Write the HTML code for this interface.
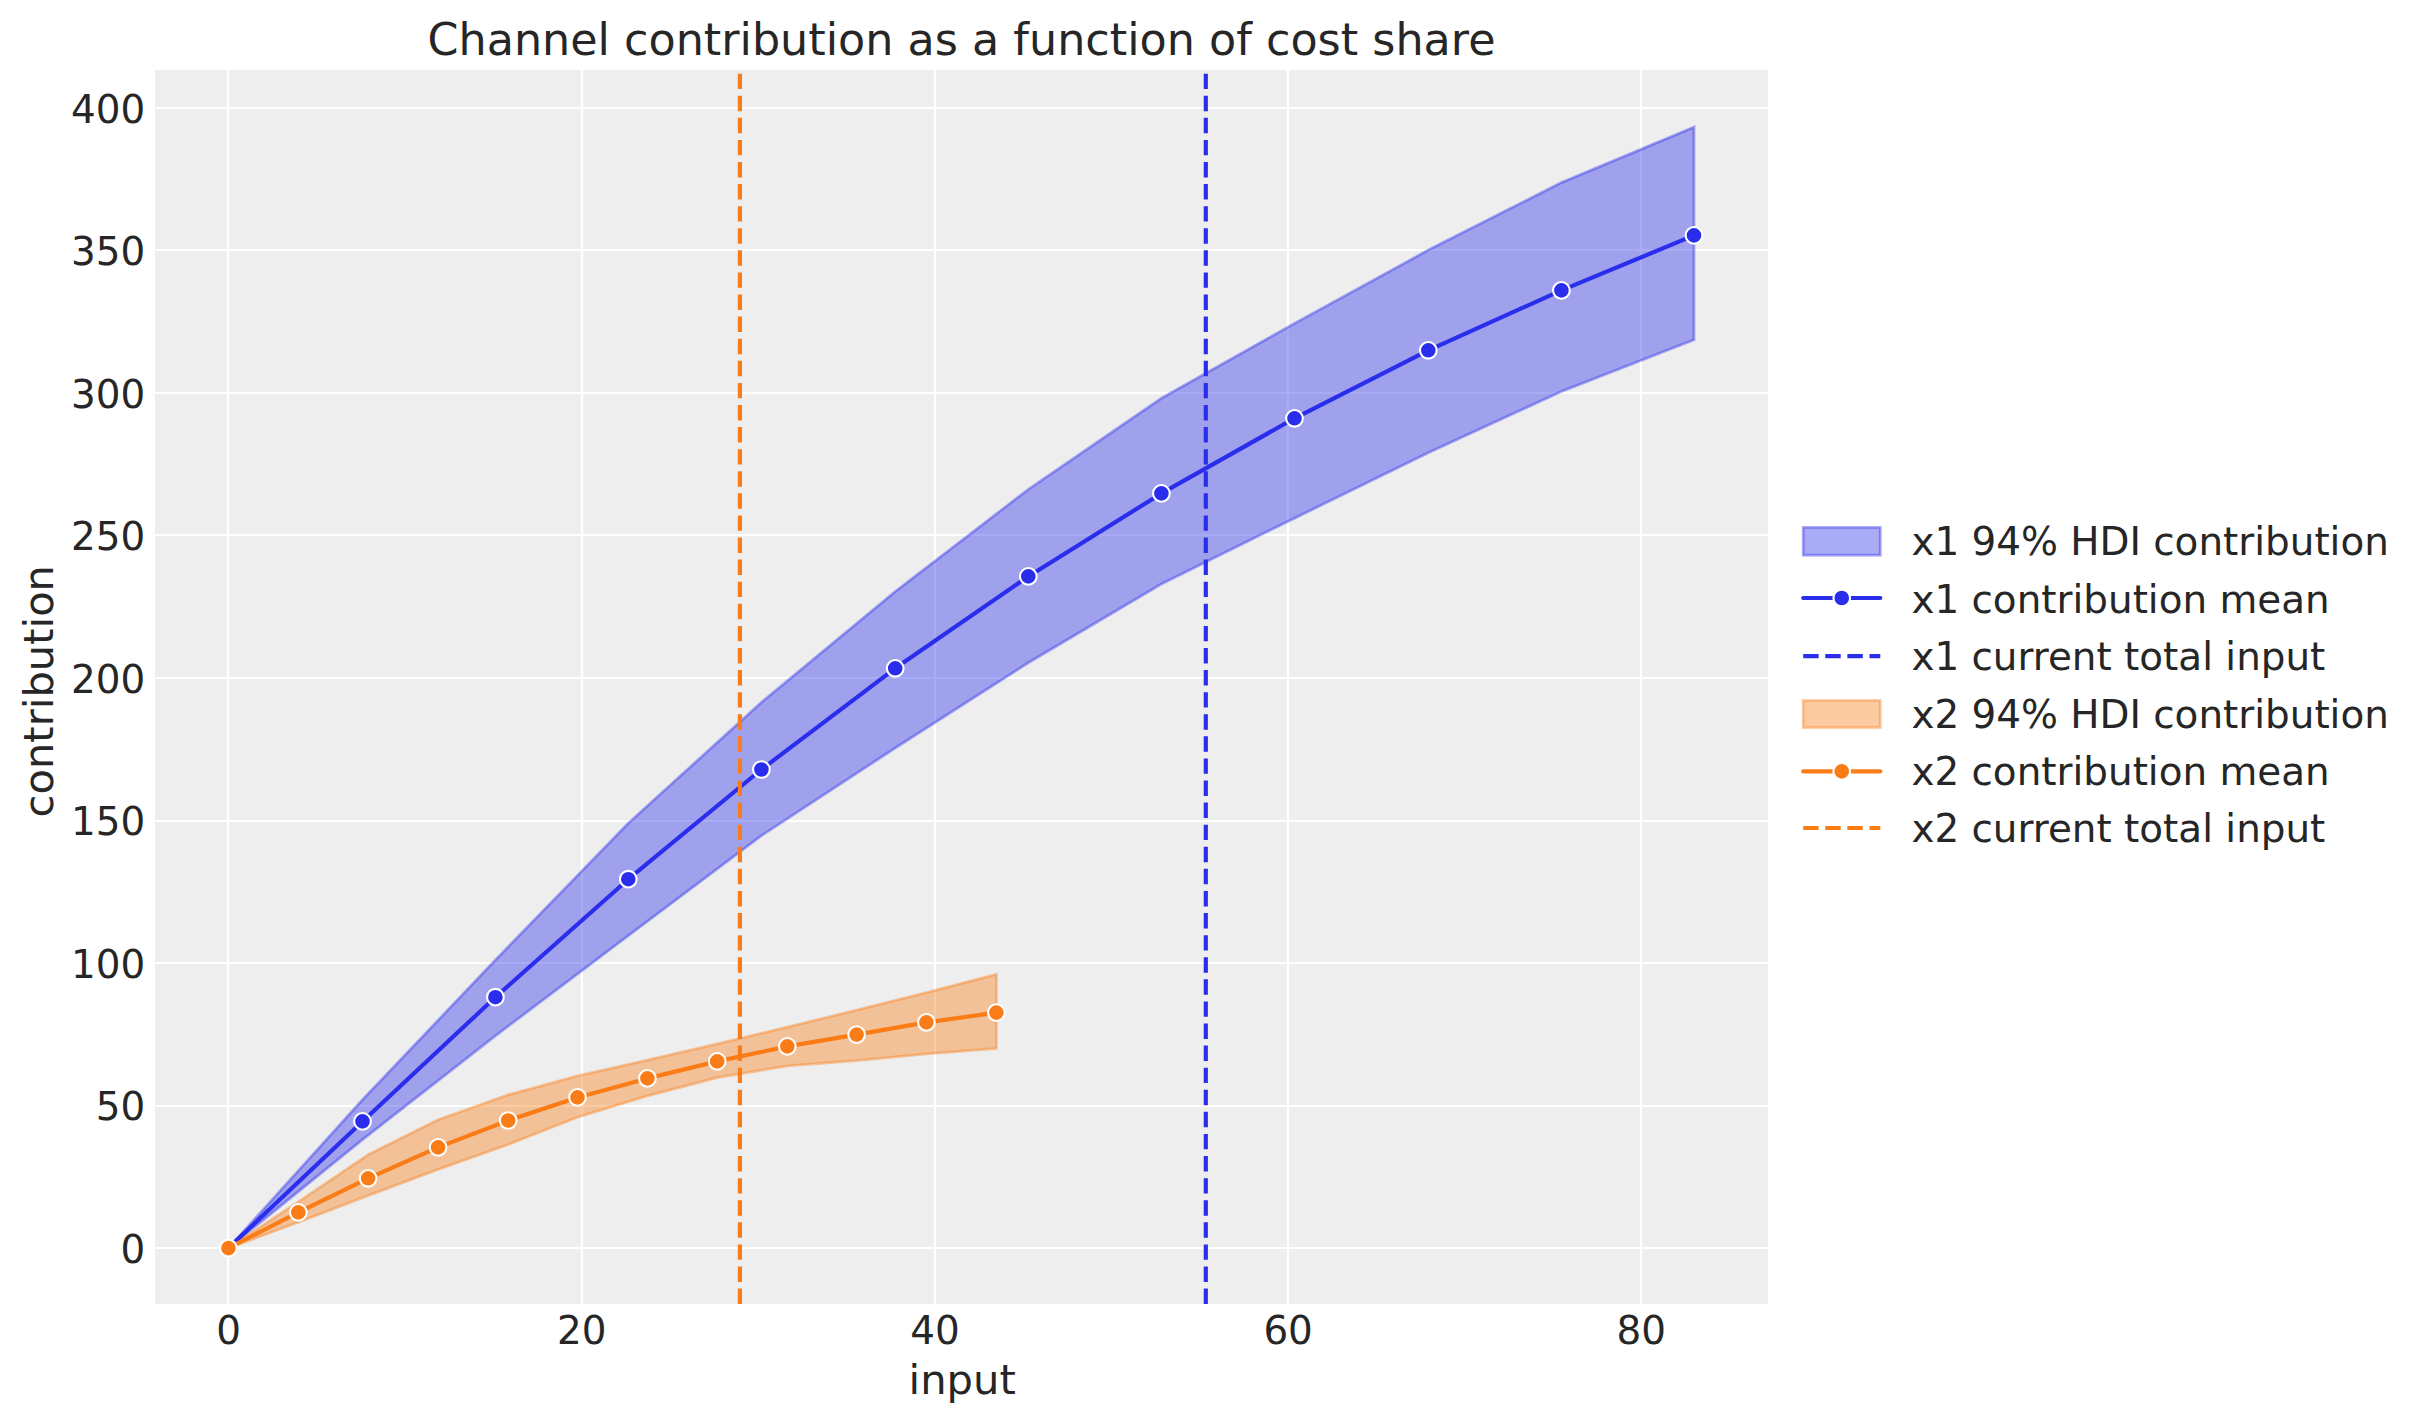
<!DOCTYPE html>
<html lang="en"><head><meta charset="utf-8"><title>Channel contribution as a function of cost share</title>
<style>
html,body{margin:0;padding:0;background:#ffffff;}
body{width:2423px;height:1423px;overflow:hidden;}
svg text{white-space:pre;}
</style></head><body>
<svg width="2423" height="1423" viewBox="0 0 2423 1423" style="display:block">
<rect x="0" y="0" width="2423" height="1423" fill="#ffffff"/>
<rect x="155.0" y="70.0" width="1613.0" height="1234.0" fill="#eeeeee"/>
<g stroke="#ffffff" stroke-width="2.22" fill="none">
<line x1="228" y1="70.0" x2="228" y2="1304.0"/>
<line x1="582" y1="70.0" x2="582" y2="1304.0"/>
<line x1="935" y1="70.0" x2="935" y2="1304.0"/>
<line x1="1288" y1="70.0" x2="1288" y2="1304.0"/>
<line x1="1641" y1="70.0" x2="1641" y2="1304.0"/>
<line x1="155.0" y1="1248" x2="1768.0" y2="1248"/>
<line x1="155.0" y1="1106" x2="1768.0" y2="1106"/>
<line x1="155.0" y1="963" x2="1768.0" y2="963"/>
<line x1="155.0" y1="821" x2="1768.0" y2="821"/>
<line x1="155.0" y1="678" x2="1768.0" y2="678"/>
<line x1="155.0" y1="535" x2="1768.0" y2="535"/>
<line x1="155.0" y1="393" x2="1768.0" y2="393"/>
<line x1="155.0" y1="250" x2="1768.0" y2="250"/>
<line x1="155.0" y1="108" x2="1768.0" y2="108"/>
</g>
<clipPath id="ax"><rect x="155.0" y="70.0" width="1613.0" height="1234.0"/></clipPath>
<g clip-path="url(#ax)">
<polygon points="228.40,1248.10 362.50,1099.80 495.40,960.00 628.30,823.20 761.40,702.40 895.20,591.60 1028.30,489.40 1161.40,398.30 1294.50,323.40 1428.30,250.10 1561.40,182.60 1694.00,127.10 1694.00,339.70 1561.40,391.50 1428.30,452.70 1294.50,518.20 1161.40,584.00 1028.30,662.80 895.20,748.00 761.40,835.70 628.30,935.70 495.40,1035.80 362.50,1139.70 228.40,1248.10" fill="#2a2eec" fill-opacity="0.4" stroke="none"/>
<polygon points="228.40,1248.10 362.50,1099.80 495.40,960.00 628.30,823.20 761.40,702.40 895.20,591.60 1028.30,489.40 1161.40,398.30 1294.50,323.40 1428.30,250.10 1561.40,182.60 1694.00,127.10 1694.00,339.70 1561.40,391.50 1428.30,452.70 1294.50,518.20 1161.40,584.00 1028.30,662.80 895.20,748.00 761.40,835.70 628.30,935.70 495.40,1035.80 362.50,1139.70 228.40,1248.10" fill="none" stroke="#2a2eec" stroke-opacity="0.4" stroke-width="2.78" stroke-linejoin="miter"/>
<polygon points="228.40,1248.10 298.30,1201.90 368.10,1154.75 438.10,1119.75 508.20,1094.80 577.50,1075.90 647.40,1060.10 717.20,1043.90 787.30,1027.10 856.60,1010.10 926.40,992.60 996.40,974.30 996.40,1048.40 926.40,1053.90 856.60,1060.60 787.30,1065.90 717.20,1077.60 647.40,1095.90 577.50,1117.20 508.20,1144.50 438.10,1169.40 368.10,1195.60 298.30,1222.25 228.40,1248.10" fill="#fa7c17" fill-opacity="0.4" stroke="none"/>
<polygon points="228.40,1248.10 298.30,1201.90 368.10,1154.75 438.10,1119.75 508.20,1094.80 577.50,1075.90 647.40,1060.10 717.20,1043.90 787.30,1027.10 856.60,1010.10 926.40,992.60 996.40,974.30 996.40,1048.40 926.40,1053.90 856.60,1060.60 787.30,1065.90 717.20,1077.60 647.40,1095.90 577.50,1117.20 508.20,1144.50 438.10,1169.40 368.10,1195.60 298.30,1222.25 228.40,1248.10" fill="none" stroke="#fa7c17" stroke-opacity="0.4" stroke-width="2.78" stroke-linejoin="miter"/>
<polyline points="228.40,1248.10 362.50,1121.40 495.40,997.20 628.30,879.20 761.40,769.50 895.20,668.30 1028.30,576.40 1161.40,493.40 1294.50,418.30 1428.30,350.30 1561.40,290.40 1694.00,235.40" fill="none" stroke="#2a2eec" stroke-width="4.17" stroke-linecap="round" stroke-linejoin="round"/>
<circle cx="228.40" cy="1248.10" r="8.333" fill="#2a2eec" stroke="#ffffff" stroke-width="2.08"/>
<circle cx="362.50" cy="1121.40" r="8.333" fill="#2a2eec" stroke="#ffffff" stroke-width="2.08"/>
<circle cx="495.40" cy="997.20" r="8.333" fill="#2a2eec" stroke="#ffffff" stroke-width="2.08"/>
<circle cx="628.30" cy="879.20" r="8.333" fill="#2a2eec" stroke="#ffffff" stroke-width="2.08"/>
<circle cx="761.40" cy="769.50" r="8.333" fill="#2a2eec" stroke="#ffffff" stroke-width="2.08"/>
<circle cx="895.20" cy="668.30" r="8.333" fill="#2a2eec" stroke="#ffffff" stroke-width="2.08"/>
<circle cx="1028.30" cy="576.40" r="8.333" fill="#2a2eec" stroke="#ffffff" stroke-width="2.08"/>
<circle cx="1161.40" cy="493.40" r="8.333" fill="#2a2eec" stroke="#ffffff" stroke-width="2.08"/>
<circle cx="1294.50" cy="418.30" r="8.333" fill="#2a2eec" stroke="#ffffff" stroke-width="2.08"/>
<circle cx="1428.30" cy="350.30" r="8.333" fill="#2a2eec" stroke="#ffffff" stroke-width="2.08"/>
<circle cx="1561.40" cy="290.40" r="8.333" fill="#2a2eec" stroke="#ffffff" stroke-width="2.08"/>
<circle cx="1694.00" cy="235.40" r="8.333" fill="#2a2eec" stroke="#ffffff" stroke-width="2.08"/>
<line x1="1205.8" y1="1304.0" x2="1205.8" y2="70.0" stroke="#2a2eec" stroke-width="4.17" stroke-dasharray="15.42 6.67"/>
<polyline points="228.40,1248.10 298.30,1212.40 368.10,1178.30 438.10,1147.40 508.20,1120.50 577.50,1097.40 647.40,1078.40 717.20,1061.40 787.30,1046.40 856.60,1034.60 926.40,1022.40 996.40,1012.60" fill="none" stroke="#fa7c17" stroke-width="4.17" stroke-linecap="round" stroke-linejoin="round"/>
<circle cx="228.40" cy="1248.10" r="8.333" fill="#fa7c17" stroke="#ffffff" stroke-width="2.08"/>
<circle cx="298.30" cy="1212.40" r="8.333" fill="#fa7c17" stroke="#ffffff" stroke-width="2.08"/>
<circle cx="368.10" cy="1178.30" r="8.333" fill="#fa7c17" stroke="#ffffff" stroke-width="2.08"/>
<circle cx="438.10" cy="1147.40" r="8.333" fill="#fa7c17" stroke="#ffffff" stroke-width="2.08"/>
<circle cx="508.20" cy="1120.50" r="8.333" fill="#fa7c17" stroke="#ffffff" stroke-width="2.08"/>
<circle cx="577.50" cy="1097.40" r="8.333" fill="#fa7c17" stroke="#ffffff" stroke-width="2.08"/>
<circle cx="647.40" cy="1078.40" r="8.333" fill="#fa7c17" stroke="#ffffff" stroke-width="2.08"/>
<circle cx="717.20" cy="1061.40" r="8.333" fill="#fa7c17" stroke="#ffffff" stroke-width="2.08"/>
<circle cx="787.30" cy="1046.40" r="8.333" fill="#fa7c17" stroke="#ffffff" stroke-width="2.08"/>
<circle cx="856.60" cy="1034.60" r="8.333" fill="#fa7c17" stroke="#ffffff" stroke-width="2.08"/>
<circle cx="926.40" cy="1022.40" r="8.333" fill="#fa7c17" stroke="#ffffff" stroke-width="2.08"/>
<circle cx="996.40" cy="1012.60" r="8.333" fill="#fa7c17" stroke="#ffffff" stroke-width="2.08"/>
<line x1="739.9" y1="1304.0" x2="739.9" y2="70.0" stroke="#fa7c17" stroke-width="4.17" stroke-dasharray="15.42 6.67"/>
</g>
<g font-family='"DejaVu Sans", "Liberation Sans", sans-serif' fill="#262626">
<text x="228.70" y="1343.9" font-size="38.89" text-anchor="middle">0</text>
<text x="581.84" y="1343.9" font-size="38.89" text-anchor="middle">20</text>
<text x="934.98" y="1343.9" font-size="38.89" text-anchor="middle">40</text>
<text x="1288.12" y="1343.9" font-size="38.89" text-anchor="middle">60</text>
<text x="1641.26" y="1343.9" font-size="38.89" text-anchor="middle">80</text>
<text x="145.3" y="1262.66" font-size="38.89" text-anchor="end">0</text>
<text x="145.3" y="1120.15" font-size="38.89" text-anchor="end">50</text>
<text x="145.3" y="977.64" font-size="38.89" text-anchor="end">100</text>
<text x="145.3" y="835.13" font-size="38.89" text-anchor="end">150</text>
<text x="145.3" y="692.62" font-size="38.89" text-anchor="end">200</text>
<text x="145.3" y="550.10" font-size="38.89" text-anchor="end">250</text>
<text x="145.3" y="407.59" font-size="38.89" text-anchor="end">300</text>
<text x="145.3" y="265.08" font-size="38.89" text-anchor="end">350</text>
<text x="145.3" y="122.57" font-size="38.89" text-anchor="end">400</text>
<text x="962.2" y="1394.0" font-size="41.67" text-anchor="middle">input</text>
<text transform="translate(53.3,691.2) rotate(-90)" font-size="41.67" text-anchor="middle">contribution</text>
<text x="961.5" y="54.5" font-size="44.44" text-anchor="middle">Channel contribution as a function of cost share</text>
<rect x="1803.2" y="527.40" width="77.1" height="27.8" fill="#2a2eec" fill-opacity="0.4"/>
<rect x="1803.2" y="527.40" width="77.1" height="27.8" fill="none" stroke="#2a2eec" stroke-opacity="0.4" stroke-width="2.78"/>
<text x="1911.4" y="555.00" font-size="38.89">x1 94% HDI contribution</text>
<line x1="1803.2" y1="598.00" x2="1880.3" y2="598.00" stroke="#2a2eec" stroke-width="4.17" stroke-linecap="round"/>
<circle cx="1841.75" cy="598.00" r="8.333" fill="#2a2eec" stroke="#ffffff" stroke-width="2.08"/>
<text x="1911.4" y="612.50" font-size="38.89">x1 contribution mean</text>
<line x1="1803.2" y1="656.10" x2="1880.3" y2="656.10" stroke="#2a2eec" stroke-width="4.17" stroke-dasharray="15.42 6.67"/>
<text x="1911.4" y="670.00" font-size="38.89">x1 current total input</text>
<rect x="1803.2" y="700.50" width="77.1" height="27.0" fill="#fa7c17" fill-opacity="0.4"/>
<rect x="1803.2" y="700.50" width="77.1" height="27.0" fill="none" stroke="#fa7c17" stroke-opacity="0.4" stroke-width="2.78"/>
<text x="1911.4" y="727.80" font-size="38.89">x2 94% HDI contribution</text>
<line x1="1803.2" y1="771.40" x2="1880.3" y2="771.40" stroke="#fa7c17" stroke-width="4.17" stroke-linecap="round"/>
<circle cx="1841.75" cy="771.40" r="8.333" fill="#fa7c17" stroke="#ffffff" stroke-width="2.08"/>
<text x="1911.4" y="784.80" font-size="38.89">x2 contribution mean</text>
<line x1="1803.2" y1="828.00" x2="1880.3" y2="828.00" stroke="#fa7c17" stroke-width="4.17" stroke-dasharray="15.42 6.67"/>
<text x="1911.4" y="842.00" font-size="38.89">x2 current total input</text>
</g>
</svg>
</body></html>
